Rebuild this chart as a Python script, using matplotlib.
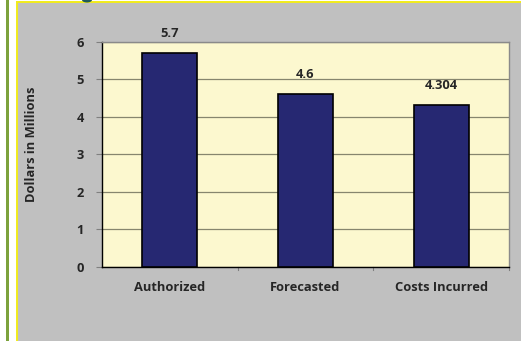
import matplotlib.pyplot as plt
from matplotlib.patches import Rectangle, Ellipse
from matplotlib.lines import Line2D

categories = ["Authorized", "Forecasted", "Costs Incurred"]
values = [5.7, 4.6, 4.304]
value_labels = ["5.7", "4.6", "4.304"]
y_ticks = [0, 1, 2, 3, 4, 5, 6]

W, H = 521, 341
fig = plt.figure(figsize=(W / 100, H / 100), dpi=100)
fig.patch.set_facecolor("white")

FONT = ["Open Sans", "DejaVu Sans"]
FS = 9.3

# gray chart area with yellow frame and green side rule
fig.add_artist(Rectangle((16.5 / W, 0), (W - 16.5) / W, (H - 2.2) / H,
                         transform=fig.transFigure, facecolor="#c0c0c0",
                         edgecolor="none", zorder=0))
fig.add_artist(Line2D([16.7 / W, 16.7 / W], [0, (H - 1.7) / H],
                      transform=fig.transFigure, color="#f2ec1a", lw=1.4))
fig.add_artist(Line2D([16.7 / W, 1], [(H - 2.2) / H, (H - 2.2) / H],
                      transform=fig.transFigure, color="#f2ec1a", lw=1.4))
fig.add_artist(Rectangle((6 / W, 0), 3 / W, 1, transform=fig.transFigure,
                         facecolor="#7ca23c", edgecolor="none"))
fig.add_artist(Ellipse((87 / W, 1), 10 / W, 5 / H,
                       transform=fig.transFigure, facecolor="#1f5a5a",
                       edgecolor="none", zorder=5))

left, right, top, bottom = 101.7, 509.3, 41.7, 266.7
ax = fig.add_axes([left / W, 1 - bottom / H, (right - left) / W, (bottom - top) / H])
ax.set_facecolor("#fcf8cf")

x = range(len(categories))
ax.bar(x, values, width=0.4, color="#262872", edgecolor="black", linewidth=1.2, zorder=3)

for xi, v, lbl in zip(x, values, value_labels):
    ax.annotate(lbl, (xi, v), xytext=(0, 9.5), textcoords="offset points",
                ha="center", va="bottom", fontsize=FS, fontweight="bold",
                color="#262626", family=FONT)

ax.set_xlim(-0.5, len(categories) - 0.5)
ax.set_ylim(0, 6)
ax.set_yticks(y_ticks)
ax.set_yticklabels([str(t) for t in y_ticks], fontsize=FS, fontweight="bold",
                   color="#262626", family=FONT)
ax.yaxis.grid(True, color="#86866e", linewidth=0.9, zorder=0)
ax.set_axisbelow(True)

ax.set_xticks(list(x))
ax.set_xticklabels(categories, fontsize=FS, fontweight="bold", color="#262626", family=FONT)
ax.tick_params(axis="x", length=0, pad=10)
ax.tick_params(axis="y", length=4, width=0.8, color="#808080", pad=9)
for b in [0.5, 1.5, 2.5]:
    ax.plot([b, b], [0, -0.09], color="#808080", lw=0.8, clip_on=False)

ax.spines["left"].set_color("black")
ax.spines["left"].set_linewidth(1.0)
ax.spines["bottom"].set_color("black")
ax.spines["bottom"].set_linewidth(1.0)
ax.spines["top"].set_color("#8a8a8a")
ax.spines["right"].set_color("#8a8a8a")
ax.spines["top"].set_linewidth(1.0)
ax.spines["right"].set_linewidth(1.0)

fig.text(31.7 / W, 1 - 144 / H, "Dollars in Millions", rotation=90, ha="center",
         va="center", fontsize=FS, fontweight="bold", color="#262626", family=FONT)

fig.savefig("out.png", dpi=100)
